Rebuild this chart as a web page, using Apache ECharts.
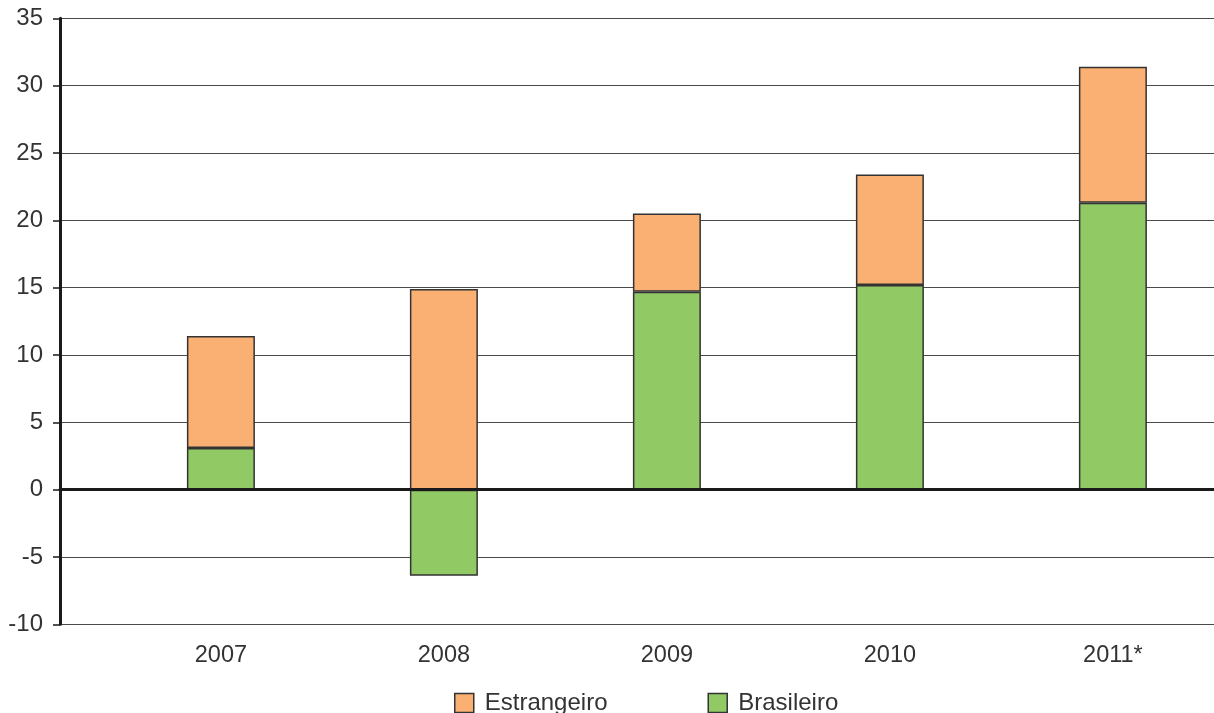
<!DOCTYPE html>
<html>
<head>
<meta charset="utf-8">
<script src="https://cdn.jsdelivr.net/npm/echarts@6/dist/echarts.min.js"></script>
<style>
  html, body { margin: 0; padding: 0; background: #fff; }
  #chart { width: 1214px; height: 713px; }
</style>
</head>
<body>
<div id="chart"></div>
<script>
// Anos (2011 = estimativa)
const categories = ['2007', '2008', '2009', '2010', '2011*'];
// Capital brasileiro e estrangeiro, por ano
const brasileiro = [3.1, -6.4, 14.7, 15.2, 21.3];
const estrangeiro = [8.3, 14.9, 5.8, 8.2, 10.1];
// Escala vertical
const yTicks = [-10, -5, 0, 5, 10, 15, 20, 25, 30, 35];

const FONT = 'Liberation Sans';
const TEXT = '#333';
const TOP = 18.3;
const BOTTOM = 88.7;
const Y_MIN = yTicks[0];
const Y_MAX = yTicks[yTicks.length - 1];

const chart = echarts.init(document.getElementById('chart'), null, { renderer: 'canvas' });

chart.setOption({
  animation: false,
  backgroundColor: '#fff',
  textStyle: { fontFamily: FONT },
  grid: [
    // frame: value axis, gridlines and the zero line
    { left: 60, right: 0, top: TOP, bottom: BOTTOM, containLabel: false },
    // category band where the columns sit (runs past the right edge)
    { left: 109.4, width: 1115, top: TOP, bottom: BOTTOM, containLabel: false, outerBoundsMode: 'none' }
  ],
  legend: {
    data: ['Estrangeiro', 'Brasileiro'],
    left: 449,
    top: 686,
    icon: 'rect',
    itemWidth: 19,
    itemHeight: 19,
    itemGap: 100,
    textStyle: { fontFamily: FONT, fontSize: 24, color: TEXT, padding: [0, 0, 0, 6] },
    itemStyle: { borderColor: '#333', borderWidth: 1.5 }
  },
  xAxis: [
    {
      // zero line across the whole frame
      gridIndex: 0,
      type: 'value',
      min: 0,
      max: 1,
      z: 5,
      axisLine: { show: true, onZero: true, lineStyle: { color: '#1a1a1a', width: 3 } },
      axisTick: { show: false },
      axisLabel: { show: false },
      splitLine: { show: false }
    },
    {
      gridIndex: 1,
      type: 'category',
      data: categories,
      axisLine: { show: false },
      axisTick: { show: false },
      splitLine: { show: false },
      axisLabel: { fontFamily: FONT, fontSize: 23.5, color: TEXT, margin: 19, interval: 0 }
    }
  ],
  yAxis: [
    {
      gridIndex: 0,
      type: 'value',
      min: Y_MIN,
      max: Y_MAX,
      interval: 5,
      axisLine: { show: true, onZero: false, lineStyle: { color: '#1a1a1a', width: 3 } },
      axisTick: { show: true, inside: false, length: 7, lineStyle: { color: '#1a1a1a', width: 1.5 } },
      splitLine: { show: true, lineStyle: { color: '#4a4a4a', width: 1.2 } },
      axisLabel: { fontFamily: FONT, fontSize: 24, color: TEXT, margin: 17 }
    },
    {
      gridIndex: 1,
      type: 'value',
      min: Y_MIN,
      max: Y_MAX,
      interval: 5,
      show: false,
      splitLine: { show: false }
    }
  ],
  series: [
    {
      name: 'Brasileiro',
      type: 'bar',
      xAxisIndex: 1,
      yAxisIndex: 1,
      stack: 'total',
      barWidth: 68,
      data: brasileiro,
      itemStyle: { color: '#91C964', borderColor: '#333', borderWidth: 1.5 },
      z: 2
    },
    {
      name: 'Estrangeiro',
      type: 'bar',
      xAxisIndex: 1,
      yAxisIndex: 1,
      stack: 'total',
      barWidth: 68,
      data: estrangeiro,
      itemStyle: { color: '#FAB072', borderColor: '#333', borderWidth: 1.5 },
      z: 2
    }
  ]
});
</script>
</body>
</html>
